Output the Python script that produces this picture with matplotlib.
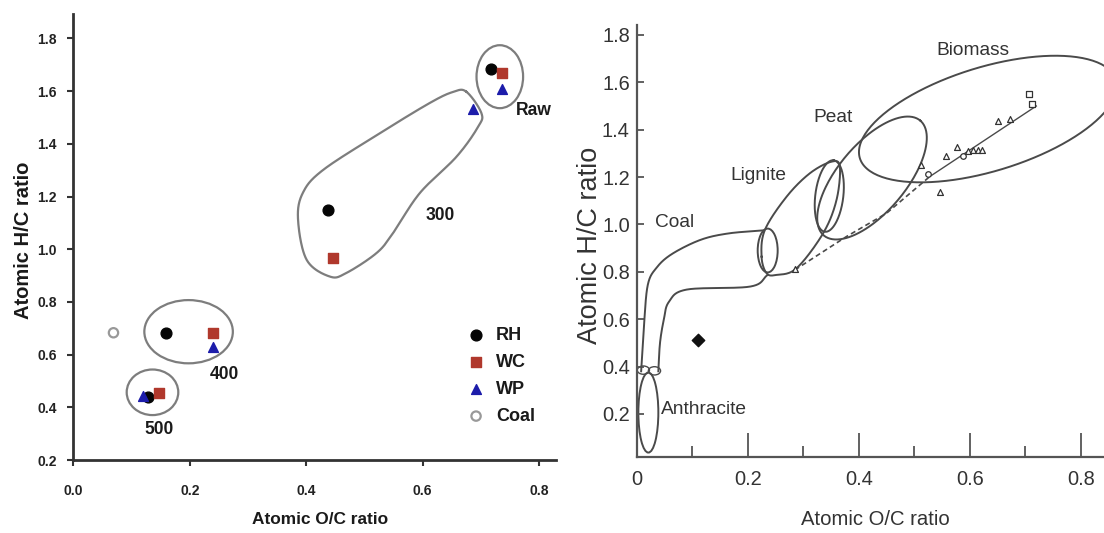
import numpy as np
import matplotlib
matplotlib.use("Agg")
import matplotlib.pyplot as plt
from matplotlib import font_manager as fm
from matplotlib.patches import Ellipse


def pick(names):
    for n in names:
        try:
            fm.findfont(fm.FontProperties(family=n), fallback_to_default=False)
            return n
        except Exception:
            pass
    return "DejaVu Sans"


NARROW = pick(["Liberation Sans Narrow", "Liberation Sans", "Arial"])
REG = pick(["Liberation Sans", "Arial"])
IS_NARROW = NARROW == "Liberation Sans Narrow"
K = 1.0 if IS_NARROW else 0.86   # size factor when no condensed face exists

# ---------------- data: left panel ----------------
rh_x = [0.717, 0.438, 0.159, 0.129]
rh_y = [1.684, 1.149, 0.683, 0.438]
wc_x = [0.737, 0.446, 0.240, 0.148]
wc_y = [1.668, 0.965, 0.683, 0.453]
wp_x = [0.737, 0.687, 0.240, 0.120]
wp_y = [1.607, 1.531, 0.628, 0.443]
coal_x = [0.069]
coal_y = [0.683]

left_xticks = [0.0, 0.2, 0.4, 0.6, 0.8]
left_yticks = [0.2, 0.4, 0.6, 0.8, 1.0, 1.2, 1.4, 1.6, 1.8]

# group outlines (left)
raw_ell = (0.7325, 1.655, 0.080, 0.239)
e400 = (0.198, 0.687, 0.152, 0.240)
e500 = (0.136, 0.457, 0.0886, 0.173)
blob300_x = [0.675, 0.701, 0.695, 0.658, 0.595, 0.549, 0.521, 0.469, 0.441,
             0.401, 0.386, 0.394, 0.429, 0.527, 0.612, 0.652]
blob300_y = [1.598, 1.516, 1.464, 1.351, 1.213, 1.061, 0.986, 0.910, 0.896,
             0.959, 1.111, 1.213, 1.301, 1.441, 1.555, 1.597]
group_labels = ["Raw", "300", "400", "500"]
group_lx = [0.791, 0.630, 0.259, 0.148]
group_ly = [1.528, 1.130, 0.523, 0.314]

# ---------------- data: right panel ----------------
tri_x = [0.285, 0.513, 0.546, 0.557, 0.577, 0.597, 0.606, 0.615, 0.623, 0.651, 0.673]
tri_y = [0.812, 1.252, 1.137, 1.291, 1.326, 1.312, 1.316, 1.315, 1.315, 1.438, 1.445]
circ_x = [0.525, 0.588]
circ_y = [1.214, 1.291]
sq_x = [0.706, 0.712]
sq_y = [1.55, 1.508]
diamond_x = [0.110]
diamond_y = [0.513]
trend_dash_x = [0.285, 0.378, 0.45, 0.528]
trend_dash_y = [0.808, 0.949, 1.047, 1.202]
trend_solid_x = [0.528, 0.72]
trend_solid_y = [1.202, 1.50]

right_xticks = [0, 0.2, 0.4, 0.6, 0.8]
right_xticklabels = ["0", "0.2", "0.4", "0.6", "0.8"]
right_xminor = [0.1, 0.3, 0.5, 0.7]
right_yticks = [0.2, 0.4, 0.6, 0.8, 1.0, 1.2, 1.4, 1.6, 1.8]

coal_up_x = [0.008, 0.013, 0.020, 0.036, 0.064, 0.115, 0.165, 0.228]
coal_up_y = [0.38, 0.57, 0.745, 0.818, 0.876, 0.935, 0.962, 0.975]
coal_lo_x = [0.039, 0.042, 0.049, 0.058, 0.09, 0.205, 0.236]
coal_lo_y = [0.38, 0.50, 0.60, 0.673, 0.725, 0.738, 0.787]
lignite_x = [0.225, 0.231, 0.270, 0.312, 0.351, 0.366, 0.360, 0.336, 0.288, 0.252, 0.234]
lignite_y = [0.864, 0.977, 1.117, 1.216, 1.265, 1.244, 1.103, 0.963, 0.815, 0.787, 0.794]

region_names = ["Biomass", "Peat", "Lignite", "Coal", "Anthracite"]
region_lx = [0.605, 0.354, 0.219, 0.0675, 0.122]
region_ly = [1.735, 1.452, 1.207, 1.007, 0.217]


def catmull(xs, ys, closed=True, n=24):
    P = np.column_stack([xs, ys]).astype(float)
    if closed:
        P = np.vstack([P[-1], P, P[0], P[1]])
    else:
        P = np.vstack([2 * P[0] - P[1], P, 2 * P[-1] - P[-2]])
    out = []
    t = np.linspace(0, 1, n, endpoint=False)[:, None]
    for i in range(1, len(P) - 2):
        p0, p1, p2, p3 = P[i - 1], P[i], P[i + 1], P[i + 2]
        seg = 0.5 * ((2 * p1) + (-p0 + p2) * t + (2 * p0 - 5 * p1 + 4 * p2 - p3) * t ** 2
                     + (-p0 + 3 * p1 - 3 * p2 + p3) * t ** 3)
        out.append(seg)
    out = np.vstack(out)
    if closed:
        out = np.vstack([out, out[:1]])
    else:
        out = np.vstack([out, P[-2]])
    return out[:, 0], out[:, 1]


def ell_px(cx, cy, a, b, ang, sx, sy, n=200):
    th = np.linspace(0, 2 * np.pi, n)
    c, s = np.cos(np.radians(ang)), np.sin(np.radians(ang))
    u = a * np.cos(th)
    v = b * np.sin(th)
    dx = u * c - v * s
    dy = u * s + v * c
    return cx + dx / sx, cy + dy / sy


W, H = 1104, 533
fig = plt.figure(figsize=(W / 100, H / 100), dpi=100)

# ---------------- left axes ----------------
L = dict(l=73.3, r=556, t=14, b=460)
axL = fig.add_axes([L["l"] / W, 1 - L["b"] / H, (L["r"] - L["l"]) / W, (L["b"] - L["t"]) / H])
axL.set_xlim(0, 0.829)
axL.set_ylim(0.2, 1.893)
for sp in ["top", "right"]:
    axL.spines[sp].set_visible(False)
for sp in ["left", "bottom"]:
    axL.spines[sp].set_linewidth(2.0)
    axL.spines[sp].set_color("#333333")
axL.set_xticks(left_xticks)
axL.set_xticklabels(["%.1f" % v for v in left_xticks])
axL.set_yticks(left_yticks)
axL.set_yticklabels(["%.1f" % v for v in left_yticks])
axL.tick_params(direction="out", length=4, width=1.5, color="#333333")
axL.tick_params(axis="x", pad=13)
axL.tick_params(axis="y", pad=8)
for lab in axL.get_xticklabels() + axL.get_yticklabels():
    lab.set_fontfamily(NARROW)
    lab.set_fontweight("bold")
    lab.set_fontsize(11 * K * 1.06)
    lab.set_color("#222222")

gcol = "#7d7d7d"
for (cx, cy, w, h) in [raw_ell, e400, e500]:
    axL.add_patch(Ellipse((cx, cy), w, h, fill=False, ec=gcol, lw=1.6, zorder=2))
bx, by = catmull(blob300_x, blob300_y)
axL.plot(bx, by, color=gcol, lw=1.6, zorder=2)

axL.scatter(rh_x, rh_y, s=60, marker="o", color="#050505", zorder=4, label="RH")
axL.scatter(wc_x, wc_y, s=45, marker="s", color="#b0382c", zorder=4, label="WC")
axL.scatter(wp_x, wp_y, s=50, marker="^", color="#1c1caa", zorder=5, label="WP")
axL.scatter(coal_x, coal_y, s=45, marker="o", facecolor="none", edgecolor="#999999",
            lw=1.6, zorder=4, label="Coal")

for t, x, y in zip(group_labels, group_lx, group_ly):
    axL.text(x, y, t, fontfamily=NARROW, fontweight="bold", fontsize=14 * K * 1.05,
             ha="center", va="center", color="#1a1a1a")

axL.set_xlabel("Atomic O/C ratio", fontfamily=NARROW, fontweight="bold", fontsize=14 * K * 1.03,
               color="#1a1a1a")
axL.set_ylabel("Atomic H/C ratio", fontfamily=REG, fontweight="bold", fontsize=14.5, color="#1a1a1a")
axL.xaxis.set_label_coords((320 - L["l"]) / (L["r"] - L["l"]), (L["b"] - 512) / (L["b"] - L["t"]))
axL.yaxis.set_label_coords((33 - L["l"]) / (L["r"] - L["l"]), (L["b"] - 240) / (L["b"] - L["t"]))

leg = axL.legend(loc="upper left",
                 bbox_to_anchor=((458 - L["l"]) / (L["r"] - L["l"]), (L["b"] - 318) / (L["b"] - L["t"])),
                 frameon=False, handletextpad=0.6, labelspacing=0.55, borderpad=0,
                 handlelength=1.0, prop=dict(family=NARROW, weight="bold", size=14 * K * 1.08))
for t in leg.get_texts():
    t.set_color("#1a1a1a")

# ---------------- right axes ----------------
R = dict(l=636.7, r=1104, t=25, b=457.3)
axR = fig.add_axes([R["l"] / W, 1 - R["b"] / H, (R["r"] - R["l"]) / W, (R["b"] - R["t"]) / H])
xr = (0, 0.842)
yr = (0.017, 1.842)
axR.set_xlim(*xr)
axR.set_ylim(*yr)
sx = (R["r"] - R["l"]) / (xr[1] - xr[0])
sy = (R["b"] - R["t"]) / (yr[1] - yr[0])
for sp in ["top", "right"]:
    axR.spines[sp].set_visible(False)
for sp in ["left", "bottom"]:
    axR.spines[sp].set_linewidth(1.6)
    axR.spines[sp].set_color("#555555")
axR.set_xticks(right_xticks)
axR.set_xticklabels(right_xticklabels)
axR.set_xticks(right_xminor, minor=True)
axR.set_yticks(right_yticks)
axR.set_yticklabels(["%.1f" % v for v in right_yticks])
axR.tick_params(axis="x", which="major", direction="in", length=17, width=1.3, color="#555555", pad=9)
axR.tick_params(axis="x", which="minor", direction="in", length=8, width=1.3, color="#555555")
axR.tick_params(axis="y", direction="in", length=5, width=1.3, color="#555555", pad=5)
for lab in axR.get_xticklabels() + axR.get_yticklabels():
    lab.set_fontfamily(NARROW)
    lab.set_fontsize(16 * K * 1.05)
    lab.set_color("#333333")

lc = "#4a4a4a"
lw = 1.4
# anthracite and junctions
axR.add_patch(Ellipse((0.021, 0.206), 0.036, 0.338, fill=False, ec=lc, lw=lw, clip_on=False))
axR.add_patch(Ellipse((0.012, 0.385), 0.022, 0.035, fill=False, ec=lc, lw=1.0))
axR.add_patch(Ellipse((0.032, 0.382), 0.022, 0.035, fill=False, ec=lc, lw=1.0))
axR.add_patch(Ellipse((0.236, 0.89), 0.036, 0.185, fill=False, ec=lc, lw=lw))
# coal band
cx_, cy_ = catmull(coal_up_x, coal_up_y, closed=False)
axR.plot(cx_, cy_, color=lc, lw=lw)
cx_, cy_ = catmull(coal_lo_x, coal_lo_y, closed=False)
axR.plot(cx_, cy_, color=lc, lw=lw)
# lignite
gx, gy = catmull(lignite_x, lignite_y)
axR.plot(gx, gy, color=lc, lw=lw)
# small lignite/peat junction
ex, ey = ell_px(0.347, 1.12, 36, 14, 83, sx, sy)
axR.plot(ex, ey, color=lc, lw=lw)
# peat
ex, ey = ell_px(0.424, 1.196, 75, 34, 50, sx, sy)
axR.plot(ex, ey, color=lc, lw=lw)
# biomass
ex, ey = ell_px(0.633, 1.445, 134, 52, 17, sx, sy)
axR.plot(ex, ey, color=lc, lw=lw)

# trend and points
axR.plot(trend_dash_x, trend_dash_y, color=lc, lw=1.2, ls=(0, (3, 2)))
axR.plot(trend_solid_x, trend_solid_y, color=lc, lw=1.0)
axR.scatter(tri_x, tri_y, marker="^", s=18, facecolor="white", edgecolor="#333333", lw=0.9, zorder=4)
axR.scatter(circ_x, circ_y, marker="o", s=16, facecolor="white", edgecolor="#333333", lw=0.9, zorder=4)
axR.scatter(sq_x, sq_y, marker="s", s=22, facecolor="white", edgecolor="#333333", lw=0.9, zorder=4)
axR.scatter(diamond_x, diamond_y, marker="D", s=40, color="#111111", zorder=4)

for t, x, y in zip(region_names, region_lx, region_ly):
    axR.text(x, y, t, fontfamily=NARROW, fontsize=16 * K, ha="center", va="center", color="#333333")

axR.set_xlabel("Atomic O/C ratio", fontfamily=NARROW, fontsize=17 * K, color="#333333")
axR.set_ylabel("Atomic H/C ratio", fontfamily=REG, fontsize=19.5, color="#333333")
axR.xaxis.set_label_coords((875 - R["l"]) / (R["r"] - R["l"]), (R["b"] - 510) / (R["b"] - R["t"]))
axR.yaxis.set_label_coords((603 - R["l"]) / (R["r"] - R["l"]), (R["b"] - 245) / (R["b"] - R["t"]))

fig.savefig("out.png", dpi=100)
